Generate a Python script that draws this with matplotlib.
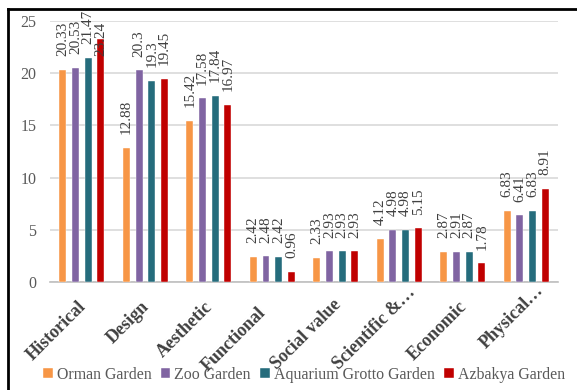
import numpy as np
import matplotlib
matplotlib.use("Agg")
import matplotlib.pyplot as plt
from matplotlib.lines import Line2D
from matplotlib.transforms import ScaledTranslation

categories = ["Historical", "Design", "Aesthetic", "Functional", "Social value",
              "Scientific &\u2026", "Economic", "Physical\u2026"]
orman = [20.33, 12.88, 15.42, 2.42, 2.33, 4.12, 2.87, 6.83]
zoo = [20.53, 20.3, 17.58, 2.48, 2.93, 4.98, 2.91, 6.41]
aquarium = [21.47, 19.3, 17.84, 2.42, 2.93, 4.98, 2.87, 6.83]
azbakya = [23.24, 19.45, 16.97, 0.96, 2.93, 5.15, 1.78, 8.91]
series = ["Orman Garden", "Zoo Garden", "Aquarium Grotto Garden", "Azbakya Garden"]
colors = ["#F79646", "#8064A2", "#256C7C", "#C00000"]

plt.rcParams["font.family"] = ["Liberation Serif", "DejaVu Serif"]

fig = plt.figure(figsize=(5.77, 3.9), dpi=100)
ax = fig.add_axes([0.087, 0.277, 0.88, 0.669])

x = np.arange(len(categories))
w = 0.11
offs = [-0.3, -0.1, 0.1, 0.3]
for vals, name, c, o in zip([orman, zoo, aquarium, azbakya], series, colors, offs):
    ax.bar(x + o, vals, w, color=c, label=name, zorder=3, edgecolor="white", linewidth=0.3)
    for xi, v in zip(x + o, vals):
        lab = f"{v:g}"
        if v > 22:
            # top label pushed inside the plot, as in the source
            ax.text(xi, 24.9, lab, rotation=90, ha="center", va="top", fontsize=11,
                    color="#404040", zorder=4)
        else:
            ax.text(xi, v + 1.3, lab, rotation=90, ha="center", va="bottom", fontsize=11,
                    color="#404040", zorder=4)

ax.set_xlim(-0.5, len(categories) - 0.5)
ax.set_ylim(0, 25)
ax.set_yticks(range(0, 26, 5))
ax.yaxis.grid(True, color="#D9D9D9", lw=1.2, zorder=0)
for s in ["top", "right", "left"]:
    ax.spines[s].set_visible(False)
ax.spines["bottom"].set_color("#BFBFBF")
ax.spines["bottom"].set_linewidth(1.2)
ax.tick_params(axis="both", length=0, labelsize=11.5, labelcolor="#595959")
ax.tick_params(axis="y", pad=10)
ax.tick_params(axis="x", pad=6)
ax.set_xticks(x)
ax.set_xticklabels(categories, rotation=45, ha="right", va="top", rotation_mode="anchor",
                   fontweight="bold", fontsize=13, color="#404040")
# excel places a few of the rotated labels a bit off the tick
nudge = [(0, 0), (0, 0), (0, 0), (-10, -6), (2, 2), (13, 14), (0, 0), (14, 16)]
for t, (dx, dy) in zip(ax.get_xticklabels(), nudge):
    shift = ScaledTranslation((dx - 5) / 100, (dy - 8) / 100, fig.dpi_scale_trans)
    t.set_transform(t.get_transform() + shift)

ax.legend(loc="center", bbox_to_anchor=(0.5, -0.355), ncol=4, frameon=False, fontsize=11.4,
          handlelength=0.6, handleheight=0.6, handletextpad=0.25, columnspacing=0.6,
          labelcolor="#595959")

fig.add_artist(Line2D([8 / 577, 8 / 577], [0, 1 - 9 / 390], color="black", lw=2,
                      transform=fig.transFigure))
fig.add_artist(Line2D([8 / 577, 1], [1 - 9 / 390, 1 - 9 / 390], color="black", lw=2,
                      transform=fig.transFigure))

fig.savefig("out.png", dpi=100)
